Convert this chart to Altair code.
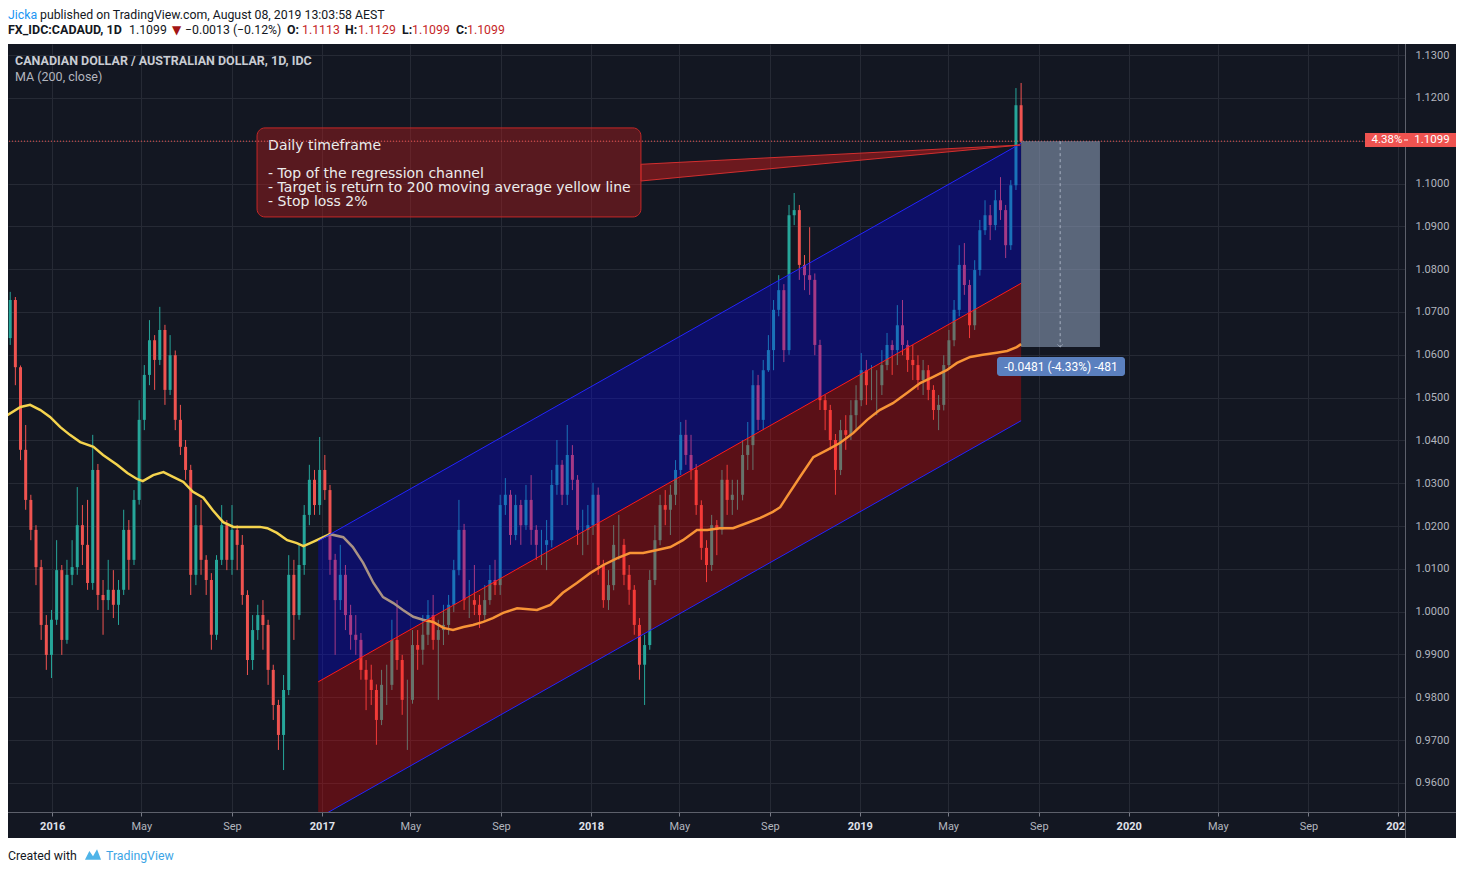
import altair as alt
import pandas as pd

# ---------------- data ----------------
WEEK_START = "2015-11-05"          # centre date of the first weekly candle
FIRST_OPEN = 1.0639

close = [
    1.0728, 1.0571, 1.0378, 1.0261, 1.0191, 1.0104, 0.9969, 0.9899, 0.9981, 1.0097,
    0.9934, 1.0086, 1.0104, 1.0202, 1.0156, 1.0067, 1.0331, 1.0039, 1.0027, 1.0051,
    1.0016, 1.0051, 1.0191, 1.0121, 1.0261, 1.0448, 1.0553, 1.0634, 1.0588, 1.0658,
    1.0518, 1.0599, 1.0448, 1.0385, 1.0331, 1.0086, 1.0202, 1.0121, 1.0074, 0.9946,
    1.0121, 1.0202, 1.0121, 1.0191, 1.0156, 1.0039, 0.9887, 0.9957, 0.9992, 0.9969,
    0.9864, 0.9782, 0.9712, 0.9817, 1.0086, 0.9992, 1.0109, 1.0226, 1.0308, 1.0249,
    1.0331, 1.0284, 1.0121, 1.0027, 1.0086, 0.9992, 0.9946, 0.9934, 0.9864, 0.9841,
    0.9817, 0.9747, 0.9829, 0.9829, 0.9934, 0.9887, 0.9794, 0.9794, 0.9922, 0.9911,
    0.9946, 0.9992, 0.9934, 0.9957, 0.9969, 1.0016, 1.0097, 1.0191, 1.0027, 1.0027,
    1.0016, 0.9992, 1.0027, 1.0074, 1.0062, 1.0249, 1.0273, 1.0179, 1.0249, 1.0202,
    1.0261, 1.0191, 1.0156, 1.0156, 1.0167, 1.0296, 1.0343, 1.0273, 1.0366, 1.0308,
    1.0191, 1.0191, 1.0202, 1.0273, 1.0109, 1.0027, 1.0062, 1.0156, 1.0156, 1.0086,
    1.0051, 0.9969, 0.9876, 0.9922, 1.0074, 1.0167, 1.0249, 1.0238, 1.0273, 1.0331,
    1.0413, 1.0366, 1.0331, 1.0249, 1.0149, 1.0109, 1.0202, 1.0191, 1.0308, 1.0261,
    1.0273, 1.0273, 1.0366, 1.0389, 1.0529, 1.0448, 1.0564, 1.0611, 1.0705, 1.0751,
    1.0611, 1.0926, 1.0938, 1.0810, 1.0786, 1.0775, 1.0623, 1.0494, 1.0471, 1.0401,
    1.0331, 1.0424, 1.0413, 1.0459, 1.0494, 1.0564, 1.0529, 1.0529, 1.0529, 1.0576,
    1.0623, 1.0611, 1.0669, 1.0623, 1.0588, 1.0576, 1.0541, 1.0564, 1.0518, 1.0471,
    1.0483, 1.0576, 1.0634, 1.0705, 1.0810, 1.0763, 1.0669, 1.0798, 1.0891, 1.0926,
    1.0903, 1.0961, 1.0938, 1.0856, 1.0996, 1.1183, 1.1099,
]

high = [
    1.0747, 1.0735, 1.0575, 1.0436, 1.0273, 1.0202, 1.0121, 0.9992, 1.0004, 1.0167,
    1.0109, 1.0121, 1.0167, 1.0291, 1.0249, 1.0261, 1.0413, 1.0345, 1.0074, 1.0121,
    1.0097, 1.0074, 1.0238, 1.0214, 1.0284, 1.0494, 1.0576, 1.0681, 1.0646, 1.0712,
    1.0670, 1.0646, 1.0610, 1.0483, 1.0401, 1.0343, 1.0249, 1.0261, 1.0132, 1.0090,
    1.0132, 1.0249, 1.0214, 1.0249, 1.0202, 1.0179, 1.0050, 0.9992, 1.0016, 1.0027,
    0.9981, 0.9876, 0.9794, 0.9852, 1.0132, 1.0121, 1.0156, 1.0249, 1.0343, 1.0331,
    1.0408, 1.0366, 1.0296, 1.0135, 1.0156, 1.0109, 1.0016, 0.9992, 0.9950, 0.9887,
    0.9876, 0.9830, 0.9864, 0.9876, 0.9981, 1.0027, 0.9899, 0.9841, 0.9957, 0.9957,
    0.9992, 1.0027, 1.0039, 0.9981, 1.0016, 1.0039, 1.0121, 1.0261, 1.0205, 1.0074,
    1.0109, 1.0039, 1.0062, 1.0109, 1.0121, 1.0273, 1.0312, 1.0284, 1.0273, 1.0261,
    1.0296, 1.0319, 1.0202, 1.0191, 1.0214, 1.0331, 1.0401, 1.0354, 1.0436, 1.0389,
    1.0319, 1.0238, 1.0249, 1.0301, 1.0290, 1.0121, 1.0097, 1.0202, 1.0226, 1.0170,
    1.0109, 1.0062, 0.9985, 0.9946, 1.0097, 1.0202, 1.0273, 1.0284, 1.0296, 1.0354,
    1.0443, 1.0448, 1.0413, 1.0345, 1.0260, 1.0167, 1.0226, 1.0214, 1.0331, 1.0343,
    1.0308, 1.0308, 1.0401, 1.0443, 1.0564, 1.0553, 1.0588, 1.0646, 1.0728, 1.0786,
    1.0765, 1.0950, 1.0978, 1.0950, 1.0833, 1.0898, 1.0790, 1.0635, 1.0506, 1.0483,
    1.0415, 1.0448, 1.0459, 1.0494, 1.0529, 1.0604, 1.0588, 1.0576, 1.0564, 1.0611,
    1.0651, 1.0634, 1.0716, 1.0728, 1.0634, 1.0623, 1.0599, 1.0588, 1.0576, 1.0529,
    1.0506, 1.0599, 1.0658, 1.0728, 1.0856, 1.0861, 1.0775, 1.0821, 1.0915, 1.0961,
    1.0950, 1.0985, 1.1015, 1.0950, 1.1008, 1.1223, 1.1235,
]

low = [
    1.0623, 1.0529, 1.0354, 1.0238, 1.0167, 1.0062, 0.9934, 0.9864, 0.9845, 0.9969,
    0.9899, 0.9925, 1.0062, 1.0086, 1.0109, 1.0051, 1.0051, 1.0004, 0.9946, 1.0004,
    0.9985, 0.9969, 1.0039, 1.0051, 1.0109, 1.0250, 1.0424, 1.0529, 1.0518, 1.0576,
    1.0483, 1.0506, 1.0424, 1.0366, 1.0308, 1.0039, 1.0062, 1.0086, 1.0039, 0.9911,
    0.9934, 1.0109, 1.0097, 1.0086, 1.0097, 1.0016, 0.9852, 0.9864, 0.9934, 0.9911,
    0.9829, 0.9747, 0.9677, 0.9630, 0.9805, 0.9934, 0.9981, 1.0086, 1.0202, 1.0226,
    1.0226, 1.0261, 1.0086, 0.9899, 1.0004, 0.9957, 0.9911, 0.9899, 0.9841, 0.9770,
    0.9782, 0.9689, 0.9735, 0.9782, 0.9817, 0.9864, 0.9759, 0.9677, 0.9785, 0.9864,
    0.9876, 0.9922, 0.9911, 0.9794, 0.9922, 0.9946, 0.9999, 1.0085, 1.0004, 0.9985,
    0.9992, 0.9962, 0.9981, 1.0016, 1.0039, 1.0039, 1.0226, 1.0156, 1.0167, 1.0156,
    1.0191, 1.0156, 1.0121, 1.0109, 1.0097, 1.0150, 1.0273, 1.0249, 1.0249, 1.0284,
    1.0156, 1.0132, 1.0156, 1.0179, 1.0086, 1.0009, 1.0004, 1.0050, 1.0121, 1.0062,
    1.0016, 0.9946, 0.9841, 0.9782, 0.9911, 1.0062, 1.0155, 1.0202, 1.0179, 1.0249,
    1.0319, 1.0343, 1.0308, 1.0226, 1.0121, 1.0069, 1.0095, 1.0132, 1.0180, 1.0226,
    1.0226, 1.0238, 1.0260, 1.0331, 1.0331, 1.0424, 1.0424, 1.0560, 1.0564, 1.0690,
    1.0583, 1.0600, 1.0903, 1.0775, 1.0751, 1.0740, 1.0599, 1.0471, 1.0424, 1.0378,
    1.0273, 1.0319, 1.0378, 1.0401, 1.0424, 1.0480, 1.0483, 1.0494, 1.0459, 1.0506,
    1.0564, 1.0553, 1.0576, 1.0599, 1.0560, 1.0541, 1.0518, 1.0506, 1.0494, 1.0448,
    1.0424, 1.0470, 1.0565, 1.0620, 1.0690, 1.0740, 1.0639, 1.0658, 1.0785, 1.0880,
    1.0868, 1.0891, 1.0915, 1.0826, 1.0845, 1.0985, 1.1095,
]

ma_dates = [
    "2015-11-01", "2015-11-19", "2015-12-02", "2015-12-16", "2015-12-29", "2016-01-12",
    "2016-01-25", "2016-02-08", "2016-02-26", "2016-03-10", "2016-03-29", "2016-04-12",
    "2016-04-25", "2016-05-03", "2016-05-17", "2016-05-31", "2016-06-13", "2016-06-27",
    "2016-07-10", "2016-07-24", "2016-08-06", "2016-08-20", "2016-09-03", "2016-09-22",
    "2016-10-09", "2016-10-19", "2016-11-01", "2016-11-15", "2016-11-28", "2016-12-07",
    "2016-12-20", "2017-01-03", "2017-01-12", "2017-01-30", "2017-02-12", "2017-02-26",
    "2017-03-12", "2017-03-25", "2017-04-08", "2017-04-21", "2017-05-05", "2017-05-18",
    "2017-06-01", "2017-06-15", "2017-06-28", "2017-07-12", "2017-07-25", "2017-08-08",
    "2017-08-21", "2017-09-04", "2017-09-23", "2017-10-20", "2017-11-07", "2017-11-24",
    "2017-12-13", "2017-12-31", "2018-01-18", "2018-02-06", "2018-02-23", "2018-03-13",
    "2018-04-01", "2018-04-19", "2018-05-06", "2018-05-25", "2018-06-08", "2018-06-25",
    "2018-07-13", "2018-08-01", "2018-08-19", "2018-09-05", "2018-09-15", "2018-09-24",
    "2018-10-12", "2018-10-30", "2018-11-18", "2018-12-05", "2018-12-23", "2019-01-11",
    "2019-01-28", "2019-02-15", "2019-03-06", "2019-03-24", "2019-04-10", "2019-04-29",
    "2019-05-13", "2019-05-31", "2019-06-17", "2019-07-06", "2019-07-20", "2019-08-02",
    "2019-08-08",
]
ma_values = [
    1.0459, 1.0478, 1.0483, 1.0471, 1.0455, 1.0431,
    1.0413, 1.0396, 1.0385, 1.0366, 1.0343, 1.0324,
    1.0310, 1.0305, 1.0319, 1.0326, 1.0315, 1.0303,
    1.0280, 1.0266, 1.0237, 1.0209, 1.0198, 1.0198,
    1.0198, 1.0195, 1.0184, 1.0167, 1.0160, 1.0153,
    1.0163, 1.0174, 1.0181, 1.0174, 1.0151, 1.0114,
    1.0067, 1.0034, 1.0020, 1.0004, 0.9988, 0.9981,
    0.9976, 0.9962, 0.9957, 0.9964, 0.9969, 0.9976,
    0.9985, 0.9997, 1.0008, 1.0004, 1.0016, 1.0044,
    1.0067, 1.0090, 1.0109, 1.0125, 1.0137, 1.0137,
    1.0144, 1.0151, 1.0167, 1.0191, 1.0191, 1.0195,
    1.0195, 1.0207, 1.0219, 1.0233, 1.0244, 1.0268,
    1.0315, 1.0361, 1.0378, 1.0394, 1.0417, 1.0448,
    1.0471, 1.0487, 1.0511, 1.0534, 1.0548, 1.0564,
    1.0581, 1.0595, 1.0600, 1.0605, 1.0609, 1.0618,
    1.0625,
]

channel_dates = ["2016-12-27", "2019-08-08"]
channel_upper = [1.0165, 1.1094]
channel_middle = [0.9836, 1.0767]
channel_lower = [0.9518, 1.0446]

note_dates = ["2016-10-05", "2018-03-10"]
note_prices = [1.1130, 1.0922]
note_text_date = "2016-10-20"
note_title = "Daily timeframe"
note_title_price = 1.1104
note_lines = [
    "- Top of the regression channel",
    "- Target is return to 200 moving average yellow line",
    "- Stop loss 2%",
]
note_lines_price = 1.1038
pointer_dates = ["2018-03-10", "2019-08-07"]
pointer_top = [1.1045, 1.1090]
pointer_bottom = [1.1006, 1.1090]

last_price = 1.1099
measure_dates = ["2019-08-08", "2019-11-23"]
measure_mid_date = "2019-09-30"
measure_prices = [1.1099, 1.0618]
measure_label = "-0.0481 (-4.33%) -481"
price_tag = ["4.38%", "1.1099"]

y_ticks = [0.96, 0.97, 0.98, 0.99, 1.00, 1.01, 1.02, 1.03, 1.04, 1.05,
           1.06, 1.07, 1.08, 1.09, 1.10, 1.11, 1.12, 1.13]
x_tick_years = [2016, 2017, 2018, 2019, 2020]
x_tick_months = [1, 5, 9]

# ---------------- styling ----------------
BG = "#131722"
GRID = "#262a35"
UP, DOWN = "#26a69a", "#ef5350"
PLOT_W, PLOT_H = 1397, 768

xscale = alt.Scale(
    type="utc", padding=0,
    domain=[alt.DateTime(year=2015, month=11, date=2, utc=True),
            alt.DateTime(year=2021, month=1, date=10, utc=True)],
)
yscale = alt.Scale(domain=[0.9532, 1.1326], nice=False, zero=False, padding=0)

x_values = [alt.DateTime(year=y, month=m, date=1, utc=True)
            for y in x_tick_years for m in x_tick_months]
x_values.append(alt.DateTime(year=2021, month=1, date=1, utc=True))

year_test = "utcmonth(datum.value) == 0"
x_axis = alt.Axis(
    values=x_values, title=None, grid=True, gridColor=GRID, domain=False,
    ticks=True, tickSize=4, tickColor="#787b86",
    labelExpr=f"{year_test} ? utcFormat(datum.value, '%Y') : utcFormat(datum.value, '%b')",
    labelColor={"condition": {"test": year_test, "value": "#e0e3eb"}, "value": "#b2b5be"},
    labelFontWeight={"condition": {"test": year_test, "value": "bold"}, "value": "normal"},
    labelFont="Roboto", labelFontSize=11, labelPadding=4, labelFlush=False, labelOverlap=False,
)
y_axis = alt.Axis(
    values=y_ticks, format=".4f", orient="right", title=None, grid=True, gridColor=GRID,
    domain=False, ticks=False, labelPadding=10, labelColor="#b2b5be",
    labelFont="Roboto", labelFontSize=11, labelOverlap=False,
)


def X(field, axis=alt.Undefined):
    return alt.X(field, type="temporal", scale=xscale, axis=axis)


def Y(field, axis=alt.Undefined):
    return alt.Y(field, type="quantitative", scale=yscale, axis=axis)


one = pd.DataFrame({"k": [0]})


def px_text(text, x, y, color, size=12, weight="normal", font="Roboto", align="left",
            baseline="middle"):
    return alt.Chart(one).mark_text(
        text=text, align=align, baseline=baseline, color=color,
        fontSize=size, fontWeight=weight, font=font,
    ).encode(x=alt.value(x), y=alt.value(y))


def px_rect(x, x2, y, y2, color, **kw):
    return alt.Chart(one).mark_rect(color=color, **kw).encode(
        x=alt.value(x), x2=alt.value(x2), y=alt.value(y), y2=alt.value(y2))


# ---------------- tables ----------------
dates = pd.date_range(WEEK_START, periods=len(close), freq="7D").strftime("%Y-%m-%d").tolist()
opens = [FIRST_OPEN] + close[:-1]
candles = pd.DataFrame({"date": dates, "open": opens, "high": high, "low": low, "close": close})
ma = pd.DataFrame({"date": ma_dates, "ma": ma_values})
channel = pd.DataFrame({"date": channel_dates, "upper": channel_upper,
                        "middle": channel_middle, "lower": channel_lower})
note_box = pd.DataFrame({"date": [note_dates[0]], "d2": [note_dates[1]],
                         "price": [note_prices[0]], "p2": [note_prices[1]]})
note_text = pd.DataFrame({"date": [note_text_date, note_text_date],
                          "price": [note_title_price, note_lines_price],
                          "text": [note_title, "\n".join(note_lines)]})
pointer = pd.DataFrame({"date": pointer_dates, "price": pointer_top, "bottom": pointer_bottom})
last = pd.DataFrame({"price": [last_price]})
measure = pd.DataFrame({"date": [measure_dates[0]], "d2": [measure_dates[1]],
                        "price": [measure_prices[0]], "p2": [measure_prices[1]],
                        "mid": [measure_mid_date]})

# ---------------- layers ----------------
color = alt.condition("datum.close >= datum.open", alt.value(UP), alt.value(DOWN))
wicks = alt.Chart(candles).mark_rule(strokeWidth=1, clip=True).encode(
    x=X("date", x_axis), y=Y("low", y_axis), y2="high", color=color)
bodies = alt.Chart(candles).mark_bar(size=3, clip=True).encode(
    x=X("date"), y=Y("open"), y2="close", color=color)

header_bg = px_rect(-8, 1460, -40, 0, "white")
footer_bg = px_rect(-8, 1460, 794, 840, "white")

ma_line = alt.Chart(ma).mark_line(color="#f5d44e", strokeWidth=2.5, clip=True).encode(
    x=X("date"), y=Y("ma"))

fill_up = alt.Chart(channel).mark_area(color="#0000ff", opacity=0.31, clip=True).encode(
    x=X("date"), y=Y("upper"), y2="middle")
fill_dn = alt.Chart(channel).mark_area(color="#ff0000", opacity=0.30, clip=True).encode(
    x=X("date"), y=Y("middle"), y2="lower")
line_up = alt.Chart(channel).mark_line(color="#2323ff", strokeWidth=1, clip=True).encode(
    x=X("date"), y=Y("upper"))
line_mid = alt.Chart(channel).mark_line(color="#ff1a1a", strokeWidth=1, clip=True).encode(
    x=X("date"), y=Y("middle"))
line_dn = alt.Chart(channel).mark_line(color="#2323ff", strokeWidth=1, clip=True).encode(
    x=X("date"), y=Y("lower"))

pointer_area = alt.Chart(pointer).mark_area(
    fill="#b71c1c", fillOpacity=0.55, stroke="#d32f2f", strokeWidth=1, clip=True
).encode(x=X("date"), y=Y("price"), y2="bottom")
note_rect = alt.Chart(note_box).mark_rect(
    fill="#b71c1c", fillOpacity=0.42, stroke="#c62828", strokeWidth=1, cornerRadius=8
).encode(x=X("date"), x2="d2", y=Y("price"), y2="p2")
note_label = alt.Chart(note_text).mark_text(
    align="left", baseline="top", font="DejaVu Sans", fontSize=14, lineHeight=14,
    lineBreak="\n", color="#ececec"
).encode(x=X("date"), y=Y("price"), text="text:N")

price_line = alt.Chart(last).mark_rule(color="#ef5350", strokeDash=[1, 2], strokeWidth=1).encode(
    y=Y("price"))

measure_rect = alt.Chart(measure).mark_rect(color="#8a9bb5", opacity=0.6).encode(
    x=X("date"), x2="d2", y=Y("price"), y2="p2")
measure_arrow = alt.Chart(measure).mark_rule(color="#a7b1c2", strokeDash=[3, 3], strokeWidth=1).encode(
    x=X("mid"), y=Y("price"), y2="p2")
measure_head = alt.Chart(measure).mark_point(
    shape="M-1,-1L0,0L1,-1", size=30, filled=False, color="#a7b1c2", strokeWidth=1
).encode(x=X("mid"), y=Y("p2"))
measure_tag = px_rect(989, 1117, 313, 332, "#5b80bf", cornerRadius=3)
measure_txt = px_text(measure_label, 1053, 322.5, "white", size=12, align="center")

corner = px_rect(1397.5, 1460, 768.5, 794, BG)
div_v = alt.Chart(one).mark_rule(color="#5d606b", strokeWidth=1).encode(
    x=alt.value(1397.5), y=alt.value(0), y2=alt.value(794))
div_h = alt.Chart(one).mark_rule(color="#5d606b", strokeWidth=1).encode(
    y=alt.value(768.5), x=alt.value(-1), x2=alt.value(1460))

tag_rect = px_rect(1357, 1449, 89, 103, "#ef5350")
tag_txt1 = px_text(price_tag[0], 1379, 96, "white", size=11.5, align="center")
tag_txt2 = px_text(price_tag[1], 1424, 96, "white", size=11.5, align="center")
tag_tick = alt.Chart(one).mark_rule(color="white", strokeWidth=1).encode(
    y=alt.value(96), x=alt.value(1396), x2=alt.value(1400))

RED = "#c62828"
BLK = "#131722"
L1, L2 = -25.5, -10   # baselines of the two header lines
FS = 12.3
texts = [
    px_text("Jicka", 0, L1, "#2196f3", size=FS, baseline="alphabetic"),
    px_text("published on TradingView.com, August 08, 2019 13:03:58 AEST", 32, L1, BLK,
            size=FS, baseline="alphabetic"),
    px_text("FX_IDC:CADAUD, 1D", 0, L2, BLK, size=12.5, weight="bold", baseline="alphabetic"),
    px_text("1.1099", 121, L2, BLK, size=FS, baseline="alphabetic"),
    px_text("\u25bc", 164, L2, "#a31515", size=12, font="DejaVu Sans", baseline="alphabetic"),
    px_text("\u22120.0013 (\u22120.12%)", 177, L2, BLK, size=FS, baseline="alphabetic"),
    px_text("O:", 279, L2, BLK, size=FS, weight="bold", baseline="alphabetic"),
    px_text("1.1113", 294, L2, RED, size=FS, baseline="alphabetic"),
    px_text("H:", 337, L2, BLK, size=FS, weight="bold", baseline="alphabetic"),
    px_text("1.1129", 350, L2, RED, size=FS, baseline="alphabetic"),
    px_text("L:", 394, L2, BLK, size=FS, weight="bold", baseline="alphabetic"),
    px_text("1.1099", 404, L2, RED, size=FS, baseline="alphabetic"),
    px_text("C:", 448, L2, BLK, size=FS, weight="bold", baseline="alphabetic"),
    px_text("1.1099", 459, L2, RED, size=FS, baseline="alphabetic"),
    px_text("CANADIAN DOLLAR / AUSTRALIAN DOLLAR, 1D, IDC", 7, 16.5, "#c9ccd3", size=12.5,
            weight="bold"),
    px_text("MA (200, close)", 7, 33, "#b2b5be", size=12.5),
    px_text("Created with", 0, 812, BLK, size=12.3),
    px_text("TradingView", 98, 812, "#3ca5e6", size=12.3),
]
logo = alt.Chart(one).mark_point(
    shape="M-1,0.6L-0.45,-0.5L0,0.15L0.5,-0.7L1,0.6Z", size=260, filled=True,
    color="#4fb4e8", opacity=1
).encode(x=alt.value(85), y=alt.value(811))

chart = alt.layer(
    wicks, bodies,
    header_bg, footer_bg,
    ma_line,
    fill_up, fill_dn, line_up, line_mid, line_dn,
    pointer_area, note_rect, note_label,
    price_line,
    measure_rect, measure_arrow, measure_head, measure_tag, measure_txt,
    corner, div_v, div_h,
    tag_rect, tag_txt1, tag_txt2, tag_tick,
    *texts, logo,
).properties(
    width=PLOT_W, height=PLOT_H,
    padding={"left": 0, "top": 36, "right": 51, "bottom": 52},
    autosize=alt.AutoSizeParams(type="none"),
).configure(
    background=BG, font="Roboto",
).configure_view(stroke=None)

chart.save("out.html", embed_options={"renderer": "svg", "actions": False})
